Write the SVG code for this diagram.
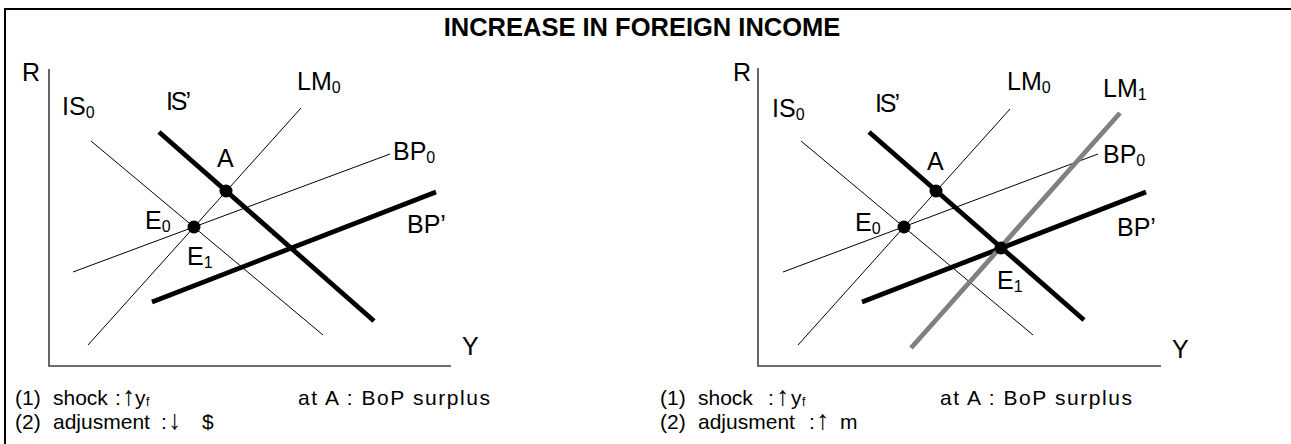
<svg xmlns="http://www.w3.org/2000/svg" width="1291" height="444" viewBox="0 0 1291 444">
<style>
text{font-family:"Liberation Sans",Arial,sans-serif;fill:#000}
.lbl{font-size:25px}
.sub{font-size:16px}
.note{font-size:21px}
.fs{font-size:12px}
.arr{font-size:27px}
.title{font-size:25.5px;font-weight:bold}
.axis{stroke:#404040;stroke-width:1.6;fill:none}
.thin{stroke:#000;stroke-width:1;fill:none}
.thick{stroke:#000;stroke-width:4.8;fill:none}
.gray{stroke:#808080;stroke-width:4.8;fill:none}
.dot{fill:#000}
</style>
<g id="frame">
<line x1="5" y1="9" x2="1291" y2="9" stroke="#000" stroke-width="2"/>
<line x1="5" y1="8" x2="5" y2="444" stroke="#000" stroke-width="2"/>
</g>
<text id="title" class="title" x="642" y="36" text-anchor="middle">INCREASE IN FOREIGN INCOME</text>

<g id="left-panel">
<polyline class="axis" points="49,69 49,366 451,366"/>
<g id="left-curves">
<line class="thin" x1="91" y1="141" x2="323" y2="335"/>
<line class="thin" x1="88" y1="345" x2="301" y2="108"/>
<line class="thin" x1="73" y1="272" x2="390" y2="154"/>
<line class="thick" x1="159" y1="132" x2="374" y2="321"/>
<line class="thick" x1="152" y1="302" x2="436" y2="192"/>
</g>
<circle class="dot" cx="226" cy="191" r="6.5"/>
<circle class="dot" cx="194" cy="227" r="6.5"/>
<text class="lbl" x="22" y="81">R</text>
<text class="lbl" x="462" y="355">Y</text>
<text class="lbl" x="62" y="115">IS<tspan class="sub" dy="3">0</tspan></text>
<text class="lbl" x="166" y="110" textLength="25">IS’</text>
<text class="lbl" x="297" y="90">LM<tspan class="sub" dy="3">0</tspan></text>
<text class="lbl" x="393" y="160">BP<tspan class="sub" dy="3">0</tspan></text>
<text class="lbl" x="217" y="167">A</text>
<text class="lbl" x="145" y="229">E<tspan class="sub" dy="3">0</tspan></text>
<text class="lbl" x="187" y="265">E<tspan class="sub" dy="3">1</tspan></text>
<text class="lbl" x="407" y="233">BP’</text>
<text class="note" y="405"><tspan x="15">(1)</tspan><tspan x="53">shock</tspan><tspan x="115">:</tspan><tspan class="arr" x="122">↑</tspan><tspan x="135">y</tspan><tspan class="fs" x="146" dy="1">f</tspan></text>
<text class="note" x="298" y="405" font-size="22" textLength="192">at A : BoP surplus</text>
<text class="note" y="429"><tspan x="15">(2)</tspan><tspan x="53">adjusment</tspan><tspan x="161">:</tspan><tspan class="arr" x="168">↓</tspan><tspan x="202">$</tspan></text>
</g>

<g id="right-panel">
<polyline class="axis" points="758,68 758,366 1161,366"/>
<g id="right-curves">
<line class="thin" x1="801" y1="141" x2="1033" y2="335"/>
<line class="thin" x1="798" y1="345" x2="1010" y2="109"/>
<line class="thin" x1="783" y1="272" x2="1098" y2="154"/>
<line class="thick" x1="869" y1="132" x2="1084" y2="320"/>
<line class="thick" x1="862" y1="302" x2="1146" y2="192"/>
<line class="gray" x1="911" y1="348" x2="1120" y2="113"/>
</g>
<circle class="dot" cx="936" cy="191" r="6.5"/>
<circle class="dot" cx="904" cy="227" r="6.5"/>
<circle class="dot" cx="1001" cy="248" r="6.5"/>
<text class="lbl" x="733" y="81">R</text>
<text class="lbl" x="1172" y="358">Y</text>
<text class="lbl" x="772" y="117">IS<tspan class="sub" dy="3">0</tspan></text>
<text class="lbl" x="875" y="112" textLength="25">IS’</text>
<text class="lbl" x="1007" y="90">LM<tspan class="sub" dy="3">0</tspan></text>
<text class="lbl" x="1103" y="97">LM<tspan class="sub" dy="3">1</tspan></text>
<text class="lbl" x="1103" y="163">BP<tspan class="sub" dy="3">0</tspan></text>
<text class="lbl" x="927" y="170">A</text>
<text class="lbl" x="855" y="231">E<tspan class="sub" dy="3">0</tspan></text>
<text class="lbl" x="997" y="289">E<tspan class="sub" dy="3">1</tspan></text>
<text class="lbl" x="1117" y="236">BP’</text>
<text class="note" y="405"><tspan x="660">(1)</tspan><tspan x="698">shock</tspan><tspan x="768">:</tspan><tspan class="arr" x="776">↑</tspan><tspan x="791">y</tspan><tspan class="fs" x="802" dy="1">f</tspan></text>
<text class="note" x="940" y="405" font-size="22" textLength="192">at A : BoP surplus</text>
<text class="note" y="429"><tspan x="660">(2)</tspan><tspan x="698">adjusment</tspan><tspan x="809">:</tspan><tspan class="arr" x="816">↑</tspan><tspan x="840">m</tspan></text>
</g>
</svg>
